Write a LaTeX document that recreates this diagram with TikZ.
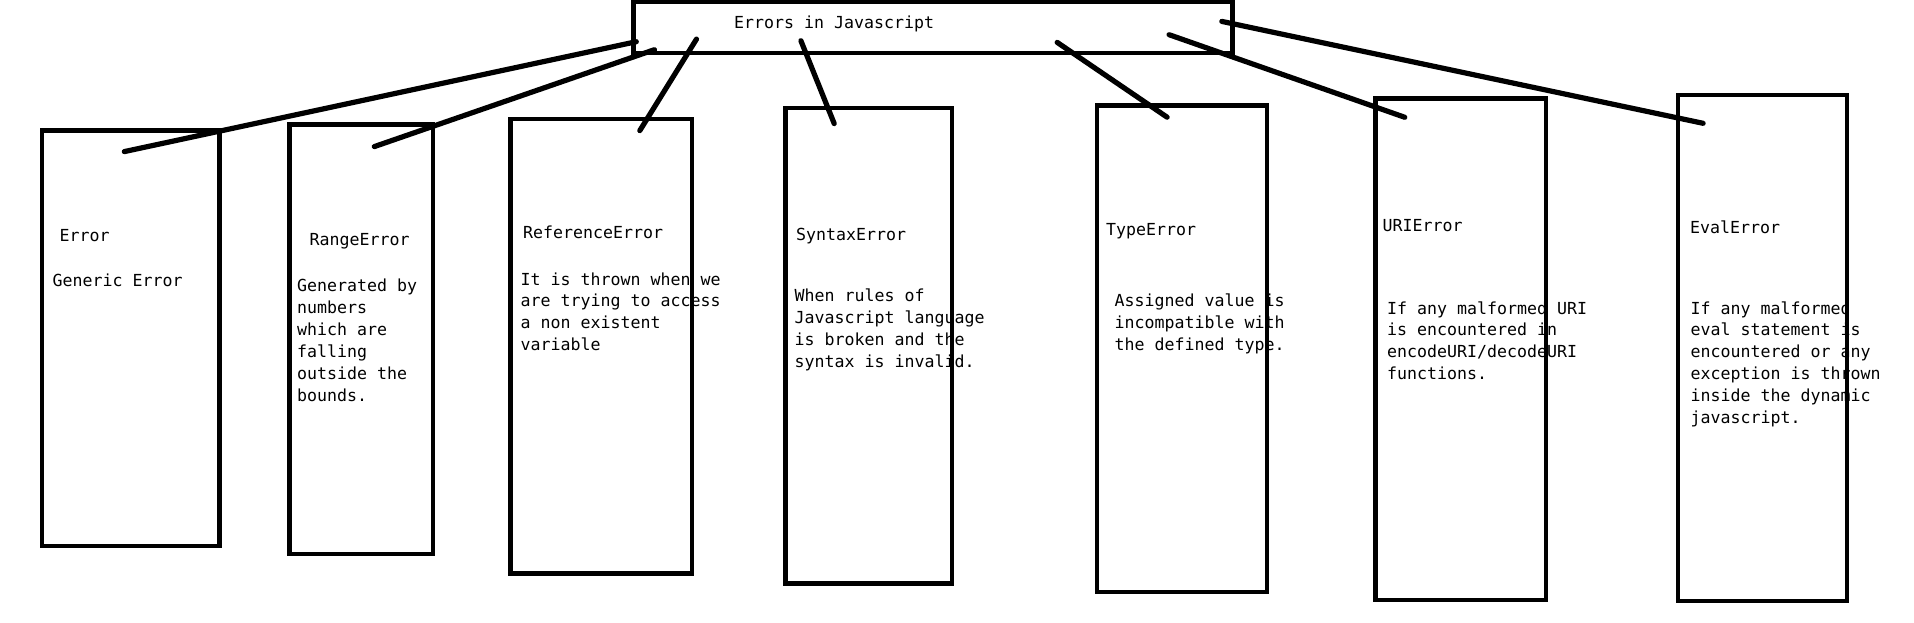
\documentclass[tikz,border=0pt]{standalone}
\usepackage{fontspec}
\setmonofont{DejaVu Sans Mono}

\begin{document}
\begin{tikzpicture}[x=1pt, y=-1pt,
        errbox/.style={rectangle, draw, line width=4.8pt, inner sep=0pt},
        link/.style={line width=5.2pt, line cap=round},
        txt/.style={inner sep=0pt, anchor=base west, align=left, font=\ttfamily\fontsize{16.6}{21.9}\selectfont}]
        \useasboundingbox (0,0) rectangle (1914,623);

        \node[errbox, minimum width=599pt, minimum height=51pt] (js) at (933,27.5) {};

        \node[errbox, minimum width=177.5pt, minimum height=415.5pt] (error) at (130.75,338.25) {};
        \node[errbox, minimum width=143.5pt, minimum height=429.5pt] (range) at (361.25,339.25) {};
        \node[errbox, minimum width=181.5pt, minimum height=454.5pt] (reference) at (601.25,346.25) {};
        \node[errbox, minimum width=166.5pt, minimum height=475.5pt] (syntax) at (868.75,345.75) {};
        \node[errbox, minimum width=170pt, minimum height=486.5pt] (type) at (1182,348.75) {};
        \node[errbox, minimum width=170.5pt, minimum height=501.4pt] (uri) at (1460.75,349.3) {};
        \node[errbox, minimum width=169pt, minimum height=506pt] (eval) at (1762.5,348) {};

        % Add links
        \draw[link] ([shift={(5.2,-13.7)}]js.south west) -- ([shift={(84.7,23.5)}]error.north west);
        \draw[link] ([shift={(23.3,-5.7)}]js.south west) -- ([shift={(87.2,24.5)}]range.north west);
        \draw[link] ([shift={(65.4,-16.3)}]js.south west) -- ([shift={(131.7,14)}]reference.north west);
        \draw[link] ([shift={(169.8,-14.7)}]js.south west) -- ([shift={(51.1,18)}]syntax.north west);
        \draw[link] ([shift={(426.1,-13)}]js.south west) -- ([shift={(72.5,14.1)}]type.north west);
        \draw[link] ([shift={(538,-20.7)}]js.south west) -- ([shift={(31.7,21.1)}]uri.north west);
        \draw[link] ([shift={(590.7,-34)}]js.south west) -- ([shift={(27.5,30.7)}]eval.north west);

        % Add texts (base of the last line)
        \node[txt] (jstitle) at (734,28.3) {Errors in Javascript};

        \node[txt] (errortitle) at (59.5,241.7) {Error};
        \node[txt] (errortext) at (52.5,286.7) {Generic Error};

        \node[txt] (rangetitle) at (309.5,245.7) {RangeError};
        \node[txt] (rangetext) at (297,401.2) {Generated by\\numbers\\which are\\falling\\outside the\\bounds.};

        \node[txt] (referencetitle) at (523,238.3) {ReferenceError};
        \node[txt] (referencetext) at (520.5,350.7) {It is thrown when we\\are trying to access\\a non existent\\variable};

        \node[txt] (syntaxtitle) at (796,240) {SyntaxError};
        \node[txt] (syntaxtext) at (794.5,367.4) {When rules of\\Javascript language\\is broken and the\\syntax is invalid.};

        \node[txt] (typetitle) at (1106,235) {TypeError};
        \node[txt] (typetext) at (1114.5,350.5) {Assigned value is\\incompatible with\\the defined type.};

        \node[txt] (urititle) at (1382.5,231) {URIError};
        \node[txt] (uritext) at (1387,379.7) {If any malformed URI\\is encountered in\\encodeURI/decodeURI\\functions.};

        \node[txt] (evaltitle) at (1690,233.3) {EvalError};
        \node[txt] (evaltext) at (1690.5,423.5) {If any malformed\\eval statement is\\encountered or any\\exception is thrown\\inside the dynamic\\javascript.};
\end{tikzpicture}
\end{document}
